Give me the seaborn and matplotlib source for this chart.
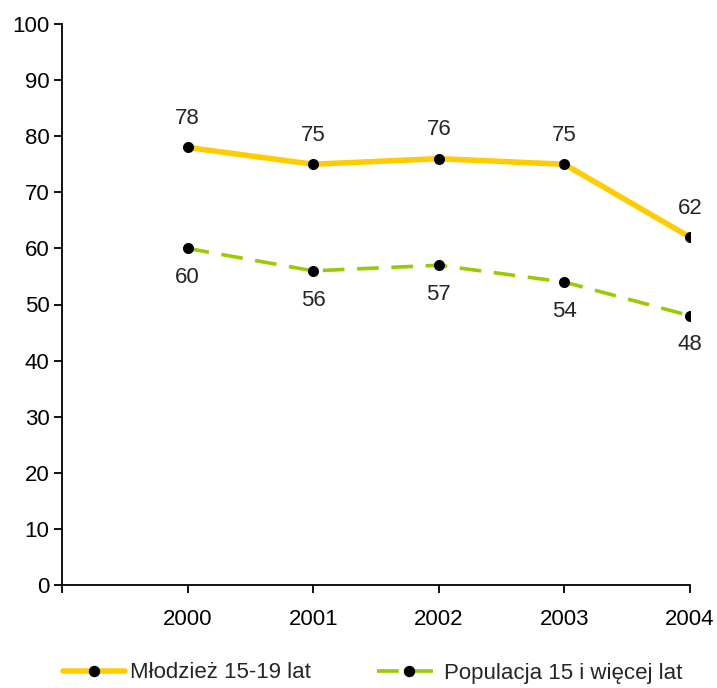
import matplotlib
matplotlib.use("Agg")
import pandas as pd
import seaborn as sns
from matplotlib import pyplot as plt

years = [2000, 2001, 2002, 2003, 2004]
mlodziez = [78, 75, 76, 75, 62]
populacja = [60, 56, 57, 54, 48]
series_names = ["Młodzież 15-19 lat", "Populacja 15 i więcej lat"]
colors = ["#FFCC00", "#99CC00"]

sns.set_style("white")
plt.rcParams["font.family"] = ["Liberation Sans", "DejaVu Sans"]
plt.rcParams["font.size"] = 16

df = pd.concat([
    pd.DataFrame({"year": years, "value": mlodziez, "series": series_names[0]}),
    pd.DataFrame({"year": years, "value": populacja, "series": series_names[1]}),
])

fig = plt.figure(figsize=(7.17, 6.88), dpi=100)
ax = fig.add_axes([62 / 717, 1 - 585 / 688, 628 / 717, 561 / 688])

sns.lineplot(
    data=df, x="year", y="value", hue="series", style="series",
    palette=colors, dashes=[(None, None), (6, 3.5)],
    markers=["o", "o"], markersize=7.2, ax=ax, legend=False,
)
lines = ax.get_lines()
lines[0].set_linewidth(4)
lines[1].set_linewidth(2.6)
for ln in lines:
    ln.set_markerfacecolor("black")
    ln.set_markeredgecolor("black")

for x, y in zip(years, mlodziez):
    ax.annotate(str(y), (x, y), xytext=(0, 21), textcoords="offset points",
                ha="center", va="center", fontsize=16)
for x, y in zip(years, populacja):
    ax.annotate(str(y), (x, y), xytext=(0, -21), textcoords="offset points",
                ha="center", va="center", fontsize=16)

ax.set_xlim(1999, 2004)
ax.set_ylim(0, 100)
ax.set_xticks([1999] + years)
ax.set_xticklabels([""] + [str(y) for y in years])
ax.set_yticks(range(0, 101, 10))
ax.set_xlabel("")
ax.set_ylabel("")
for side in ["top", "right"]:
    ax.spines[side].set_visible(False)
for side in ["left", "bottom"]:
    ax.spines[side].set_color("black")
    ax.spines[side].set_linewidth(1.3)
ax.tick_params(axis="both", direction="out", length=6, width=1.3, color="black",
               labelsize=16, labelcolor="black", bottom=True, left=True)
ax.tick_params(axis="x", pad=11)
ax.tick_params(axis="y", pad=3)

handles = [
    plt.Line2D([], [], color=colors[0], lw=4, marker="o", markersize=7.2,
               markerfacecolor="black", markeredgecolor="black"),
    plt.Line2D([], [], color=colors[1], lw=2.6, dashes=(6, 3.5), marker="o",
               markersize=7.2, markerfacecolor="black", markeredgecolor="black"),
]
fig.legend(handles, series_names, loc="center", bbox_to_anchor=(0.52, 1 - 673 / 688),
           ncol=2, frameon=False, handlelength=2.8, handletextpad=0.2,
           columnspacing=3.0, fontsize=16)

fig.savefig("out.png", dpi=100)
